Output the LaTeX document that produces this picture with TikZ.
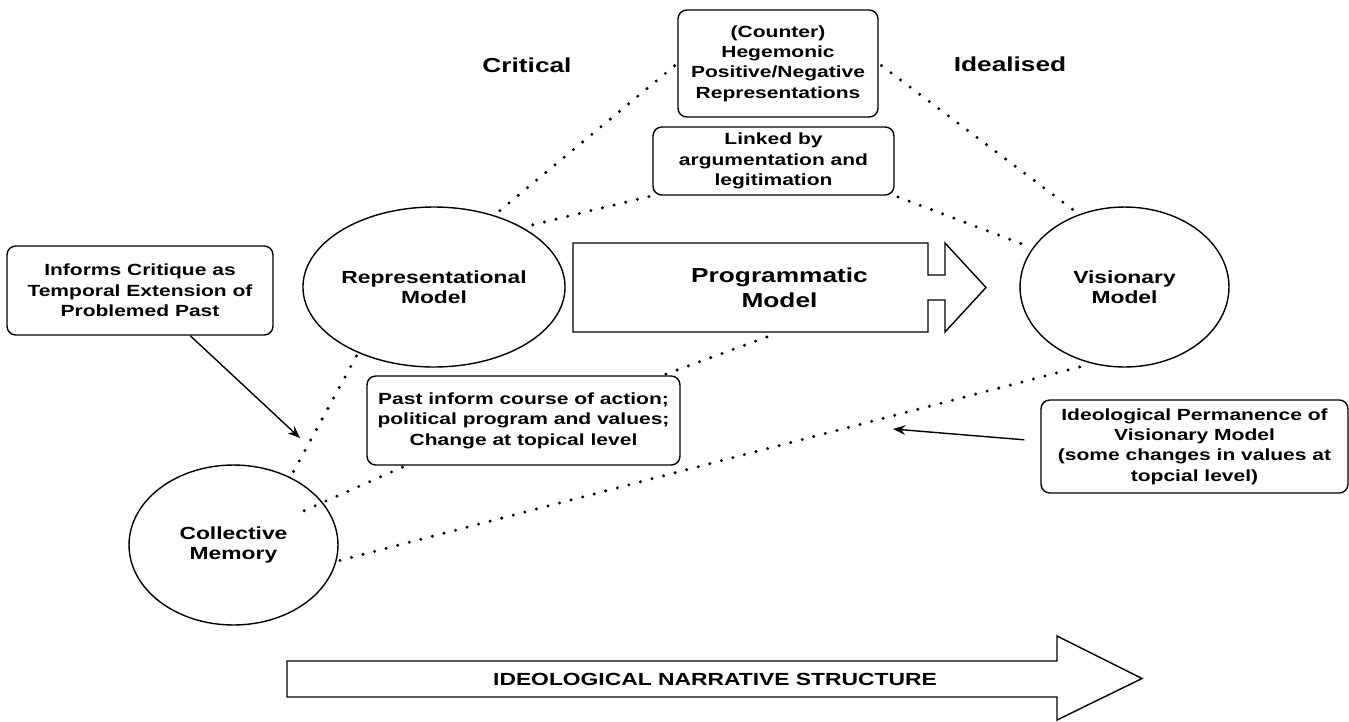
\documentclass[tikz,border=0pt]{standalone}
\usepackage{fontspec}
\setmainfont{Liberation Sans}[FakeStretch=1.3]
\usetikzlibrary{shapes.geometric, calc, arrows.meta}

\begin{document}
\begin{tikzpicture}[x=0.02cm, y=-0.02cm, >={Stealth[length=7pt, width=5.5pt]}]
    \tikzstyle{box} = [rectangle, draw, rounded corners=5pt, align=center, line width=0.8pt, inner sep=0pt, font=\bfseries\fontsize{9.2}{11.6}\selectfont]
    \tikzstyle{model} = [ellipse, draw, align=center, line width=0.8pt, inner sep=0pt, minimum width=4.18cm, minimum height=3.2cm, font=\bfseries\fontsize{10}{11.4}\selectfont]
    \tikzstyle{outline} = [draw, line width=0.8pt, line join=miter]
    \tikzstyle{link} = [line width=1.9pt, line cap=round, dash pattern=on 0pt off 6.8pt, shorten <=2pt, shorten >=2pt]
    \tikzstyle{arrow} = [->, line width=0.8pt]

    \useasboundingbox (0,0) rectangle (1349,721);

    \node [font=\bfseries\fontsize{11.5}{14}\selectfont] (critical) at (527,65) {Critical};
    \node [font=\bfseries\fontsize{11.5}{14}\selectfont] (idealised) at (1010,64) {Idealised};

    \node [box, minimum width=4cm, minimum height=2.14cm] (hegem) at (778,63.5) {(Counter)\\Hegemonic\\Positive/Negative\\Representations};
    \node [box, minimum width=4.82cm, minimum height=1.36cm] (linked) at (773.5,161) {Linked by\\argumentation and\\legitimation};

    \node [model] (repr) at (434,287) {Representational\\Model};
    \node [model] (vision) at (1124.5,287) {Visionary\\Model};
    \node [model] (memory) at (233.5,545) {Collective\\Memory};

    \draw [outline] (573,243) -- (928,243) -- (928,275) -- (945,275) -- (945,243) -- (986,287.5) -- (945,332) -- (945,300) -- (928,300) -- (928,332) -- (573,332) -- cycle;
    \node [align=center, inner sep=0pt, minimum width=8.26cm, minimum height=1.78cm, font=\bfseries\fontsize{11.5}{14.2}\selectfont] (prog) at (779.5,287.5) {Programmatic\\Model};

    \node [box, minimum width=5.32cm, minimum height=1.78cm] (critique) at (140,290.5) {Informs Critique as\\Temporal Extension of\\Problemed Past};
    \node [box, minimum width=6.26cm, minimum height=1.78cm] (past) at (523.5,420.5) {Past inform course of action;\\political program and values;\\Change at topical level};
    \node [box, minimum width=6.14cm, minimum height=1.86cm] (permanence) at (1194.5,446.5) {Ideological Permanence of\\Visionary Model\\(some changes in values at\\topcial level)};

    \draw [outline] (287,661) -- (1057,661) -- (1057,636) -- (1142,678.5) -- (1057,720) -- (1057,697) -- (287,697) -- cycle;
    \node [font=\bfseries\fontsize{10}{12}\selectfont] (structure) at (715,679) {IDEOLOGICAL NARRATIVE STRUCTURE};

    \draw [link] (hegem.west) -- (repr.50);
    \draw [link] (hegem.east) -- (vision.122);
    \draw [link] (linked.south west) -- (repr.34);
    \draw [link] (linked.south east) -- (vision.157);
    \draw [link] (repr.221) -- (memory.50);
    \draw [link] (past.18) -- (prog.south);
    \draw [link] ($(memory.center)!0.76!(memory.26)$) -- (past.201.6);
    \draw [link] (memory.-9) -- (vision.247);

    \coordinate (critiquetip) at (300,438);
    \coordinate (permtip) at (893,429);
    \draw [arrow] (critique.-42) -- (critiquetip);
    \draw [arrow, shorten <=0.32cm] (permanence.178) -- (permtip);
\end{tikzpicture}
\end{document}
